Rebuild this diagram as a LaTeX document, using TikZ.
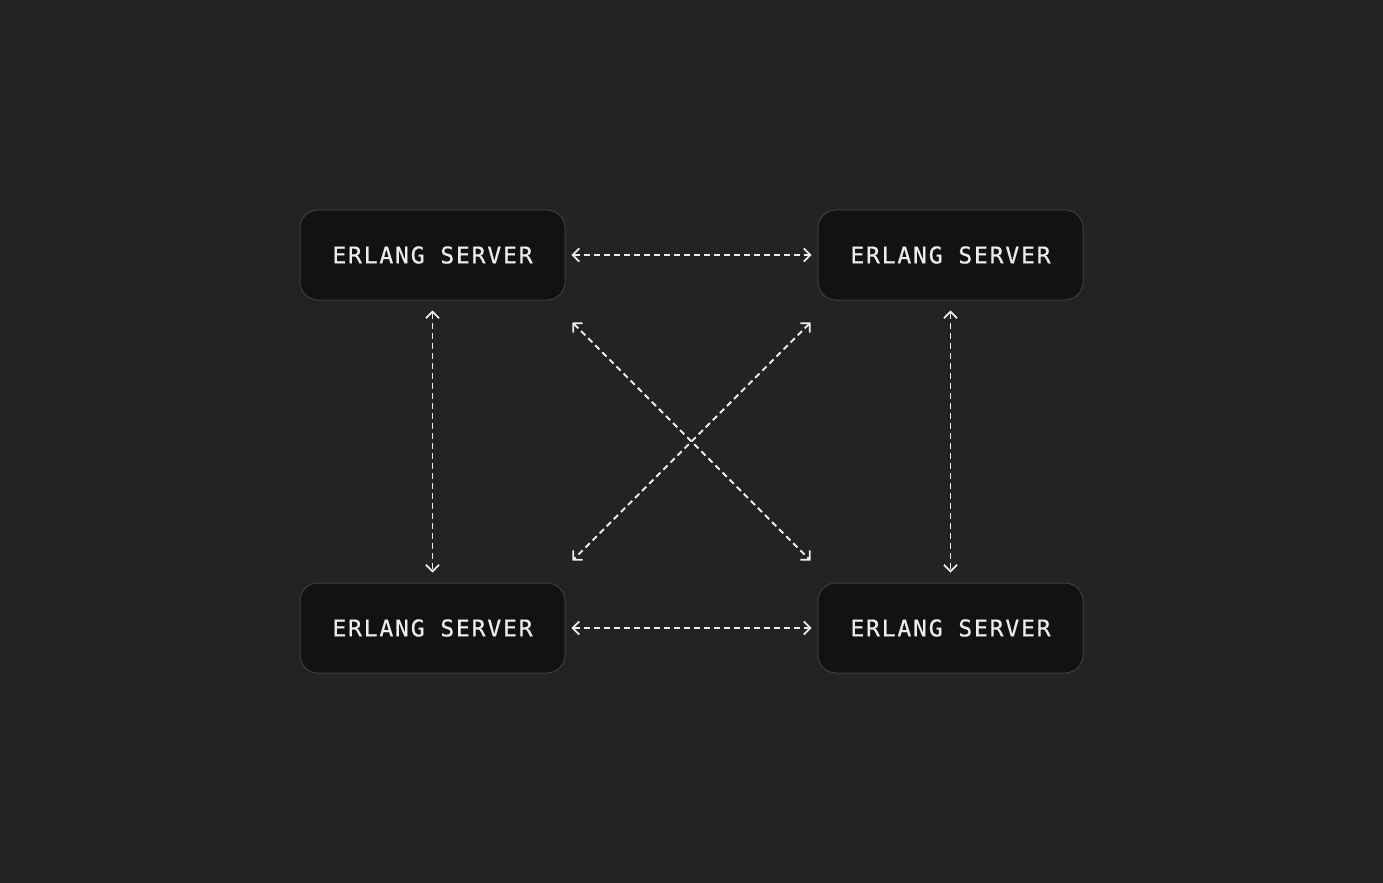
\documentclass[tikz,border=0pt]{standalone}
\usepackage{fontspec}
\newfontfamily\servermono[LetterSpace=8,FakeBold=0.6]{DejaVu Sans Mono}
\usetikzlibrary{arrows.meta,calc}

\definecolor{bgdark}{HTML}{232323}
\definecolor{boxfill}{HTML}{121212}
\definecolor{boxline}{HTML}{3E3E3E}
\definecolor{linkline}{HTML}{EDEDED}

\tikzset{
  server/.style={draw=boxline, line width=0.5pt, fill=boxfill, rounded corners=9pt,
    minimum width=132.5pt, minimum height=45pt, text=linkline,
    font=\servermono\fontsize{11.5}{12}\selectfont},
  link/.style={draw=linkline, line width=0.9pt, dash pattern=on 3pt off 2pt,
    {Straight Barb[length=3.2pt,width=6.6pt]}-{Straight Barb[length=3.2pt,width=6.6pt]}}
}

\begin{document}
\begin{tikzpicture}[x=0.5pt, y=-0.5pt]
  \fill[bgdark] (0,0) rectangle (1383,883);
  \useasboundingbox (0,0) rectangle (1383,883);

  % the four servers
  \node[server] (s1) at (432.5, 255) {ERLANG SERVER};
  \node[server] (s2) at (950.5, 255) {ERLANG SERVER};
  \node[server] (s3) at (432.5, 628) {ERLANG SERVER};
  \node[server] (s4) at (950.5, 628) {ERLANG SERVER};

  % links
  \draw[link, shorten <=3pt, shorten >=3pt] (s1) -- (s2);
  \draw[link, shorten <=3pt, shorten >=3pt] (s3) -- (s4);
  \draw[link, shorten <=5pt, shorten >=5pt] (s1) -- (s3);
  \draw[link, shorten <=5pt, shorten >=5pt] (s2) -- (s4);
  \coordinate (x1) at ($(s1.south east)+(7,22)$);
  \coordinate (x4) at ($(s4.north west)+(-7,-22)$);
  \coordinate (x2) at ($(s2.south west)+(-7,22)$);
  \coordinate (x3) at ($(s3.north east)+(7,-22)$);
  \draw[link] (x1) -- (x4);
  \draw[link] (x2) -- (x3);
\end{tikzpicture}
\end{document}
